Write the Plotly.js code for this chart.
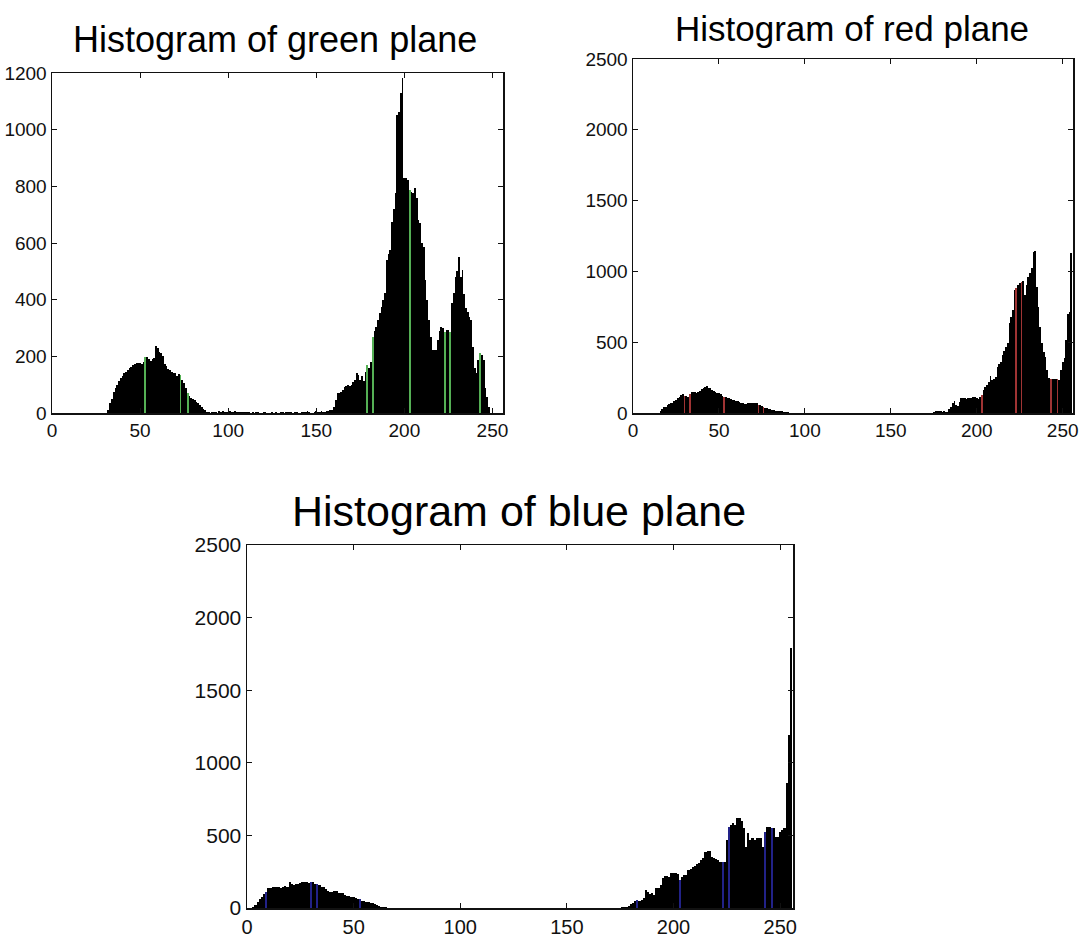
<!DOCTYPE html>
<html><head><meta charset="utf-8">
<script src="https://cdn.plot.ly/plotly-3.0.1.min.js"></script>
<style>html,body{margin:0;padding:0;background:#fff;}#chart{width:1080px;height:938px;}</style>
</head><body><div id="chart"></div>
<script>
// ---- data: pixel counts per intensity level 0..255 ----
const greenCounts = [
  0,0,0,0,0,0,0,0,0,0,0,0,0,0,0,0,
  0,0,0,0,0,0,0,0,0,0,0,0,0,0,0,0,
  10,35,50,75,90,100,112,125,132,140,146,152,158,163,170,173,
  176,178,176,172,180,199,197,190,182,192,195,236,228,216,212,200,
  172,165,156,152,145,142,140,132,138,135,118,105,90,72,60,52,
  48,45,40,35,29,22,15,10,5,3,0,4,3,5,0,6,
  4,8,3,5,4,6,3,5,7,4,3,5,2,4,3,5,
  2,0,3,0,4,2,0,0,3,5,0,0,0,3,0,2,
  0,0,4,3,0,2,5,3,4,0,3,2,0,0,3,2,
  4,6,3,0,0,4,8,5,3,6,4,5,8,6,10,12,
  22,45,69,72,75,80,93,96,99,97,99,110,117,142,134,118,
  130,112,145,169,160,181,267,290,305,330,352,375,400,423,540,560,
  575,675,720,775,1052,1063,1128,1181,830,828,822,787,780,775,793,760,
  681,670,600,587,469,400,328,270,222,222,222,257,290,305,300,287,
  293,293,287,387,422,481,500,552,481,505,420,369,358,340,328,234,
  160,140,187,211,205,187,87,58,22,0,0,0,0,0,0,0
];
const redCounts = [
  0,0,0,0,0,0,0,0,0,0,0,0,0,0,0,0,
  15,26,40,45,55,61,68,73,85,92,105,111,127,134,120,118,
  115,134,145,151,148,144,150,158,168,174,185,191,180,174,165,158,
  150,144,138,134,120,115,111,108,104,98,92,90,87,84,80,72,
  68,66,63,68,73,73,73,70,68,60,56,48,45,36,33,28,
  26,22,21,17,16,16,15,12,10,7,4,0,0,0,0,0,
  0,0,0,0,0,0,0,0,0,0,0,0,0,0,0,0,
  0,0,0,0,0,0,0,0,0,0,0,0,0,0,0,0,
  0,0,0,0,0,0,0,0,0,0,0,0,0,0,0,0,
  0,0,0,0,0,0,0,0,0,0,0,0,0,0,0,0,
  0,0,0,0,0,0,0,0,0,0,0,0,0,0,0,10,
  12,14,12,14,10,12,5,10,25,45,70,87,60,47,80,104,
  104,104,100,108,104,104,110,115,104,100,115,127,162,185,198,221,
  261,231,240,256,327,345,362,410,440,468,492,633,680,727,869,880,
  904,920,927,934,833,904,963,990,1022,1139,1146,892,751,610,492,430,
  398,304,245,238,238,238,238,238,231,304,362,386,516,700,715,1130
];
const blueCounts = [
  0,0,0,10,21,44,60,78,95,112,135,140,147,147,145,142,
  140,145,151,142,181,165,158,165,168,170,179,178,179,174,176,181,
  165,168,156,148,142,129,118,112,108,114,119,105,103,101,89,85,
  82,78,75,67,63,60,51,48,44,39,35,32,25,21,14,10,
  9,5,3,0,0,0,0,0,0,0,0,0,0,0,0,0,
  0,0,0,0,0,0,0,0,0,0,0,0,0,0,0,0,
  0,0,0,0,0,0,0,0,0,0,0,0,0,0,0,0,
  0,0,0,0,0,0,0,0,0,0,0,0,0,0,0,0,
  0,0,0,0,0,0,0,0,0,0,0,0,0,0,0,0,
  0,0,0,0,0,0,0,0,0,0,0,0,0,0,0,0,
  0,0,0,0,0,0,0,0,0,0,0,0,0,0,0,0,
  5,6,5,14,25,32,45,55,51,55,67,124,110,97,106,90,
  135,140,158,204,220,220,216,239,243,243,235,193,215,227,227,262,
  270,280,289,300,312,331,342,388,395,395,354,342,340,331,319,319,
  319,468,560,572,588,572,618,618,600,549,422,514,468,480,468,480,
  480,480,422,526,556,556,549,549,491,491,526,540,549,860,1190,1790
];
// bins whose stem shows the plane colour
const greenStripeBins = [53, 73, 77, 179, 182, 203, 223, 226, 243];
const redStripeBins   = [30, 33, 53, 73, 76, 203, 223, 226, 243, 247];
const blueStripeBins  = [9, 30, 33, 53, 183, 203, 223, 226, 243, 246];

const titles = ['Histogram of green plane', 'Histogram of red plane', 'Histogram of blue plane'];
const xTicks = [0, 50, 100, 150, 200, 250];
const greenYTicks = [0, 200, 400, 600, 800, 1000, 1200];
const rbYTicks = [0, 500, 1000, 1500, 2000, 2500];

// ---- drawing ----
const bins = greenCounts.map((_, i) => i);
function colours(stripes, c) { return bins.map(i => stripes.includes(i) ? c : '#000000'); }
function barTrace(vals, stripes, c, xa, ya) {
  return {type: 'bar', x: bins, y: vals, width: 1, xaxis: xa, yaxis: ya,
          marker: {color: colours(stripes, c), line: {width: 0}}, hoverinfo: 'x+y'};
}
const tickFamily = '"Liberation Sans", Arial, sans-serif';
function axis(domain, range, tickvals, anchor, fs) {
  return {domain: domain, range: range, tickvals: tickvals, anchor: anchor,
    showgrid: false, zeroline: false, showline: true, linecolor: '#111', linewidth: 1.5,
    mirror: 'ticks', ticks: 'inside', ticklen: 5, tickwidth: 1, tickcolor: '#111',
    tickfont: {family: tickFamily, size: fs, color: '#111'}, fixedrange: true};
}
const W = 1080, H = 938;
const px = (a, b) => [a / W, b / W];
const py = (top, bottom) => [1 - bottom / H, 1 - top / H];

const data = [
  barTrace(greenCounts, greenStripeBins, '#55b055', 'x', 'y'),
  barTrace(redCounts, redStripeBins, '#a03434', 'x2', 'y2'),
  barTrace(blueCounts, blueStripeBins, '#222288', 'x3', 'y3')
];
const titleFont = s => ({family: '"Liberation Sans", Arial, sans-serif', size: s, color: '#000'});
const layout = {
  width: W, height: H, margin: {l: 0, r: 0, t: 0, b: 0},
  paper_bgcolor: '#fff', plot_bgcolor: '#fff', showlegend: false, bargap: 0,
  xaxis:  axis(px(52, 503), [0, 256], xTicks, 'y', 19),
  yaxis:  axis(py(73, 413), [0, 1200], greenYTicks, 'x', 19),
  xaxis2: axis(px(633, 1073), [0, 256], xTicks, 'y2', 19),
  yaxis2: axis(py(59, 413), [0, 2500], rbYTicks, 'x2', 19),
  xaxis3: axis(px(247, 793), [0, 256], xTicks, 'y3', 20),
  yaxis3: axis(py(545, 908), [0, 2500], rbYTicks, 'x3', 21),
  annotations: [
    {text: titles[0], xref: 'paper', yref: 'paper', x: 275 / W, y: 1 - 40 / H, xanchor: 'center', yanchor: 'middle', showarrow: false, font: titleFont(36)},
    {text: titles[1], xref: 'paper', yref: 'paper', x: 852 / W, y: 1 - 29 / H, xanchor: 'center', yanchor: 'middle', showarrow: false, font: titleFont(35)},
    {text: titles[2], xref: 'paper', yref: 'paper', x: 519 / W, y: 1 - 511 / H, xanchor: 'center', yanchor: 'middle', showarrow: false, font: titleFont(43)}
  ]
};
Plotly.newPlot('chart', data, layout, {displayModeBar: false, staticPlot: true});
</script></body></html>
